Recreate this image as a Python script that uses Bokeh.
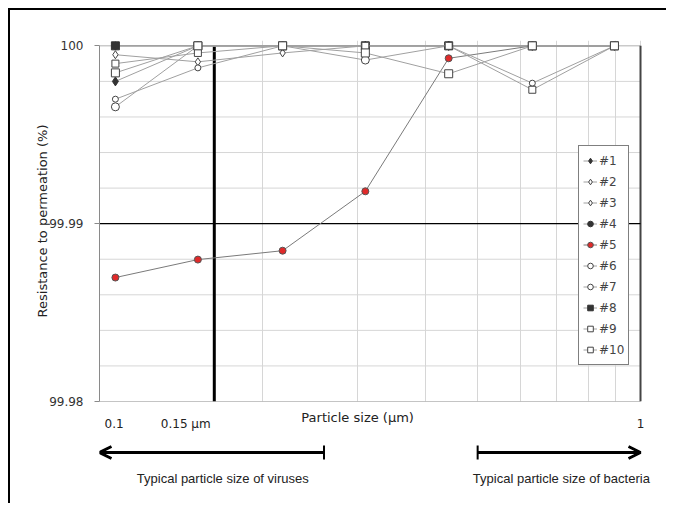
from bokeh.plotting import figure
from bokeh.models import (Range1d, FixedTicker, Legend, LegendItem, Label,
                          Arrow, OpenHead, TeeHead, Grid, ColumnDataSource)
from bokeh.layouts import column
from bokeh.embed import file_html
from bokeh.resources import INLINE

# ---------------- data ----------------
particle_size = [0.107, 0.152, 0.218, 0.310, 0.442, 0.631, 0.895]

s1 = [99.9980, 100.0, 100.0, 100.0, 100.0, 100.0, 100.0]
s2 = [99.9995, 99.9991, 99.9996, 100.0, 100.0, 100.0, 100.0]
s3 = [100.0, 100.0, 100.0, 100.0, 100.0, 100.0, 100.0]
s4 = [100.0, 100.0, 100.0, 100.0, 100.0, 100.0, 100.0]
s5 = [99.98697, 99.98798, 99.98848, 99.99182, 99.99930, 100.0, 100.0]
s6 = [99.99700, 99.99876, 100.0, 100.0, 100.0, 99.99790, 100.0]
s7 = [99.99657, 100.0, 100.0, 99.99920, 100.0, 100.0, 100.0]
s8 = [100.0, 100.0, 100.0, 100.0, 100.0, 100.0, 100.0]
s9 = [99.99900, 99.99960, 100.0, 100.0, 100.0, 99.99753, 100.0]
s10 = [99.99848, 100.0, 100.0, 99.99960, 99.99843, 100.0, 100.0]

series_names = ["#1", "#2", "#3", "#4", "#5", "#6", "#7", "#8", "#9", "#10"]
series_values = [s1, s2, s3, s4, s5, s6, s7, s8, s9, s10]

y_ticks = [99.98, 99.99, 100.0]
y_tick_labels = ["99.98", "99.99", "100"]
y_minor_ticks = [99.982, 99.984, 99.986, 99.988, 99.992, 99.994, 99.996, 99.998]
x_ticks = [0.1, 1.0]
x_tick_labels = ["0.1", "1"]
x_minor_ticks = [0.2, 0.3, 0.4, 0.5, 0.6, 0.7, 0.8, 0.9]

threshold_x = 0.163          # drawn "0.15 um" line
virus_range = (0.1, 0.26)
bacteria_range = (0.5, 1.0)

# ---------------- styles ----------------
styles = [
    dict(marker="diamond", fill="#333333", line="#333333", size=9),
    dict(marker="diamond", fill="white", line="#444444", size=8),
    dict(marker="diamond", fill="white", line="#444444", size=8),
    dict(marker="circle", fill="#333333", line="#333333", size=7),
    dict(marker="circle", fill="#e02a2a", line="#555555", size=7),
    dict(marker="circle", fill="white", line="#444444", size=6),
    dict(marker="circle", fill="white", line="#444444", size=8),
    dict(marker="square", fill="#333333", line="#333333", size=8),
    dict(marker="square", fill="white", line="#444444", size=7),
    dict(marker="square", fill="white", line="#444444", size=8),
]

FONT = "DejaVu Sans"
W = 656
BL, BR = 89, 6
X_END = 1.0888   # frame extends a little past 1 so the lower texts/arrows are not cut

p = figure(width=W, height=400, x_axis_type="log",
           x_range=Range1d(x_ticks[0], X_END), y_range=Range1d(99.98, 100.0003),
           x_axis_location=None, output_backend="svg", toolbar_location=None,
           min_border_left=BL, min_border_right=BR, min_border_top=30,
           min_border_bottom=9, outline_line_color=None,
           background_fill_color="white", border_fill_color="white")

p.xgrid.visible = False
p.ygrid.visible = False
p.add_layout(Grid(dimension=0, ticker=FixedTicker(ticks=x_ticks, minor_ticks=x_minor_ticks),
                  grid_line_color="#d6d6d6", minor_grid_line_color="#d6d6d6"))

# horizontal grid / frame lines, limited to the 0.1 .. 1 span
p.segment(x0=x_ticks[0], x1=x_ticks[1], y0=y_minor_ticks, y1=y_minor_ticks,
          line_color="#d6d6d6", line_width=1)
p.segment(x0=x_ticks[0], x1=x_ticks[1], y0=y_ticks[2], y1=y_ticks[2],
          line_color="#b0b0b0", line_width=1)
p.segment(x0=x_ticks[0], x1=x_ticks[1], y0=y_ticks[0], y1=y_ticks[0],
          line_color="#8a8a8a", line_width=1)
p.segment(x0=x_ticks[1], x1=x_ticks[1], y0=y_ticks[0], y1=y_ticks[2],
          line_color="#444444", line_width=2)
p.segment(x0=x_ticks[0], x1=x_ticks[1], y0=y_ticks[1], y1=y_ticks[1],
          line_color="black", line_width=1.2)
p.segment(x0=threshold_x, x1=threshold_x, y0=y_ticks[0], y1=y_ticks[2],
          line_color="black", line_width=3)

yax = p.yaxis[0]
yax.ticker = FixedTicker(ticks=y_ticks, minor_ticks=y_minor_ticks)
yax.bounds = (y_ticks[0], y_ticks[2])
yax.major_label_overrides = {t: l for t, l in zip(y_ticks, y_tick_labels)}
yax.axis_line_color = "#8a8a8a"
yax.major_tick_line_color = "#8a8a8a"
yax.major_tick_out = 5
yax.major_tick_in = 0
yax.minor_tick_out = 0
yax.minor_tick_in = 0
yax.major_label_standoff = 11
yax.major_label_text_font = FONT
yax.major_label_text_font_size = "12px"
yax.major_label_text_color = "#333333"
yax.axis_label = "Resistance to permeation (%)"
yax.axis_label_text_font = FONT
yax.axis_label_text_font_size = "13px"
yax.axis_label_text_font_style = "normal"
yax.axis_label_text_color = "#222222"
yax.axis_label_standoff = -4

items = []
for name, vals, st in zip(series_names, series_values, styles):
    src = ColumnDataSource(dict(x=particle_size, y=vals))
    lc = "#7a7a7a" if name == "#5" else "#a0a0a0"
    lr = p.line("x", "y", source=src, line_color=lc, line_width=1)
    sr = p.scatter("x", "y", source=src, marker=st["marker"], size=st["size"],
                   fill_color=st["fill"], line_color=st["line"], line_width=1)
    items.append(LegendItem(label=name, renderers=[lr, sr]))

legend = Legend(items=items, location=(479, 36), padding=4, spacing=0, margin=0,
                label_height=21, glyph_height=21, glyph_width=14, label_standoff=2,
                label_text_font=FONT, label_text_font_size="12px",
                border_line_color="black", border_line_width=1,
                background_fill_color="white", background_fill_alpha=1.0)
p.add_layout(legend)

# ---------------- lower panel: x labels, size ranges ----------------
QH = 93
q = figure(width=W, height=QH, x_axis_type="log", x_range=p.x_range,
           y_range=Range1d(0, QH), x_axis_location=None, y_axis_location=None,
           output_backend="svg", toolbar_location=None,
           min_border_left=BL, min_border_right=BR, min_border_top=0, min_border_bottom=0,
           outline_line_color=None, background_fill_color="white", border_fill_color="white")
q.xgrid.visible = False
q.ygrid.visible = False

def lab(x, y, text, size="12px", align="center", font=FONT, xoff=0):
    q.add_layout(Label(x=x, y=y, text=text, text_font=font, text_font_size=size,
                       text_align=align, text_baseline="middle", text_color="#222222",
                       x_offset=xoff))

lab(x_ticks[0], 80, x_tick_labels[0], align="left", xoff=5)
lab(0.15, 80, "0.15 \u00b5m", xoff=-9)
lab(x_ticks[1], 80, x_tick_labels[1])
lab(0.3, 86, "Particle size (\u00b5m)", size="13px")

q.add_layout(Arrow(x_start=virus_range[1], y_start=51, x_end=virus_range[0], y_end=51,
                   line_width=3, line_color="black",
                   end=OpenHead(size=12, line_width=3, line_color="black"),
                   start=TeeHead(size=14, line_width=2, line_color="black")))
q.add_layout(Arrow(x_start=bacteria_range[0], y_start=51, x_end=bacteria_range[1], y_end=51,
                   line_width=3, line_color="black",
                   end=OpenHead(size=12, line_width=3, line_color="black"),
                   start=TeeHead(size=14, line_width=2, line_color="black")))

lab(0.169, 25, "Typical particle size of viruses", size="13px", font="Liberation Sans")
lab(0.714, 25, "Typical particle size of bacteria", size="13px", font="Liberation Sans")

layout = column(p, q, spacing=0,
                styles={"border-left": "2px solid black", "border-top": "2px solid black",
                        "margin-left": "8px", "margin-top": "8px"})

open("out.html", "w").write(file_html(layout, INLINE))
